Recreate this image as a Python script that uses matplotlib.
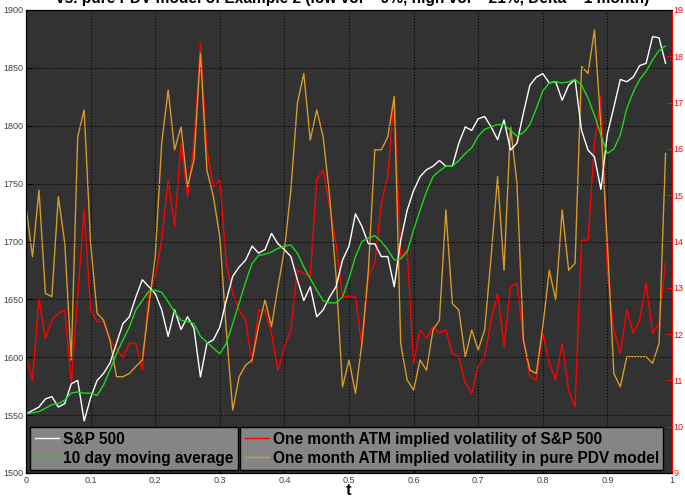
import numpy as np
import matplotlib
matplotlib.use("Agg")
import matplotlib.pyplot as plt

plt.rcParams['font.family'] = ['Liberation Sans', 'DejaVu Sans']

# sampled every 0.01 in t
t = np.arange(100) * 0.01

spx = [1551, 1554, 1557, 1564, 1566, 1557, 1560, 1577, 1580, 1545,
       1565, 1580, 1586, 1595, 1612, 1629, 1635, 1652, 1667, 1661,
       1655, 1641, 1618, 1641, 1624, 1635, 1625, 1583, 1612, 1615,
       1626, 1649, 1670, 1678, 1684, 1696, 1690, 1693, 1707, 1698,
       1693, 1687, 1667, 1649, 1661, 1635, 1641, 1652, 1661, 1684,
       1696, 1724, 1713, 1698, 1698, 1687, 1687, 1661, 1701, 1727,
       1744, 1756, 1762, 1765, 1770, 1765, 1765, 1785, 1799, 1796,
       1806, 1808, 1799, 1788, 1805, 1779, 1785, 1811, 1835, 1842,
       1845, 1837, 1838, 1822, 1835, 1840, 1796, 1779, 1773, 1745,
       1793, 1816, 1840, 1838, 1842, 1852, 1854, 1877, 1876, 1854]

ma10 = [1551, 1552, 1553, 1556, 1559, 1560, 1563, 1569, 1570, 1569,
        1569, 1567, 1576, 1589, 1603, 1615, 1626, 1641, 1649, 1657,
        1658, 1656, 1648, 1639, 1632, 1631, 1629, 1618, 1613, 1608,
        1603, 1612, 1629, 1647, 1665, 1681, 1688, 1689, 1691, 1694,
        1696, 1697, 1690, 1678, 1668, 1658, 1649, 1647, 1647, 1652,
        1668, 1687, 1700, 1703, 1705, 1700, 1693, 1684, 1685, 1691,
        1710, 1727, 1743, 1756, 1761, 1765, 1765, 1770, 1776, 1781,
        1791, 1797, 1799, 1801, 1801, 1796, 1791, 1794, 1801, 1815,
        1830, 1837, 1838, 1837, 1838, 1840, 1835, 1824, 1809, 1792,
        1776, 1780, 1792, 1815, 1829, 1840, 1847, 1857, 1865, 1869]

vol_mkt = [11.51, 11.01, 12.77, 11.91, 12.30, 12.45, 12.52, 10.94, 12.81, 14.68,
           12.52, 12.27, 12.27, 11.87, 11.69, 11.48, 11.80, 11.80, 11.22, 12.88,
           13.24, 14.03, 15.33, 14.32, 16.12, 14.97, 16.12, 18.28, 15.98, 15.18,
           15.33, 13.53, 12.88, 12.52, 12.30, 11.37, 12.52, 12.52, 12.02, 11.22,
           11.73, 12.09, 13.38, 13.31, 13.24, 15.33, 15.54, 14.75, 13.96, 12.81,
           12.81, 12.81, 11.73, 13.24, 13.53, 14.82, 15.40, 17.13, 13.67, 13.82,
           11.37, 12.09, 11.91, 12.16, 12.02, 12.09, 11.58, 11.51, 10.94, 10.72,
           11.30, 11.51, 12.30, 12.88, 11.73, 13.02, 13.10, 11.87, 11.08, 11.01,
           12.02, 11.37, 11.01, 11.80, 10.79, 10.43, 14.03, 14.03, 16.12, 17.13,
           13.31, 12.09, 11.58, 12.52, 12.02, 12.30, 13.10, 12.02, 12.23, 13.53]

vol_pdv = [14.75, 13.67, 15.11, 12.88, 12.81, 14.97, 13.96, 11.44, 16.26, 16.84,
           13.96, 12.45, 12.30, 11.87, 11.08, 11.08, 11.15, 11.30, 11.44, 12.59,
           13.67, 16.12, 17.27, 15.98, 16.48, 15.18, 15.76, 18.06, 15.54, 14.97,
           14.10, 12.09, 10.36, 11.08, 11.33, 11.44, 12.16, 12.74, 12.16, 13.02,
           13.82, 15.11, 16.98, 17.63, 16.19, 16.84, 16.26, 14.97, 13.24, 10.86,
           11.44, 10.72, 11.80, 13.38, 15.98, 15.98, 16.26, 17.13, 11.80, 11.01,
           10.79, 11.44, 11.22, 12.09, 12.30, 14.68, 12.66, 12.52, 11.51, 12.09,
           11.66, 12.09, 13.67, 15.40, 13.38, 16.48, 15.26, 11.87, 11.22, 11.15,
           12.16, 13.38, 12.74, 14.68, 13.38, 13.53, 17.78, 17.63, 18.57, 16.48,
           13.96, 11.15, 10.86, 11.51, 11.51, 11.51, 11.51, 11.37, 11.80, 15.90]

labels = ['S&P 500', '10 day moving average',
          'One month ATM implied volatility of S&P 500',
          'One month ATM implied volatility in pure PDV model']

fig = plt.figure(figsize=(6.85, 5.0), dpi=100)
ax2 = fig.add_axes([0.038, 0.054, 0.943, 0.926])
ax = ax2.twinx()
ax.yaxis.tick_left()
ax.yaxis.set_label_position('left')
ax2.yaxis.tick_right()
ax2.yaxis.set_label_position('right')
ax.set_zorder(ax2.get_zorder() + 1)
ax.patch.set_visible(False)
ax2.set_facecolor('#323232')

l3, = ax2.plot(t, vol_mkt, color='#ff0000', lw=1.0)
l4, = ax2.plot(t, vol_pdv, color='#d69b2a', lw=1.0)
l1, = ax.plot(t, spx, color='white', lw=1.0)
l2, = ax.plot(t, ma10, color='#19d919', lw=1.0)

ax.set_xlim(0, 1)
ax.set_ylim(1500, 1900)
ax2.set_ylim(9, 19)
ax.set_yticks(np.arange(1500, 1901, 50))
ax2.set_yticks(np.arange(9, 20, 1))
ax2.set_xticks(np.arange(0, 1.01, 0.1))
ax2.set_xticklabels(['0', '0.1', '0.2', '0.3', '0.4', '0.5', '0.6', '0.7', '0.8', '0.9', '1'])

ax.grid(True, axis='y', color='black', linestyle=':', lw=0.8)
ax2.grid(True, axis='x', color='black', linestyle=':', lw=0.8)

ax.tick_params(axis='y', direction='in', labelsize=6.5, labelcolor='#404040', length=4, pad=2)
ax2.tick_params(axis='x', direction='in', labelsize=6.5, labelcolor='#404040', length=4, pad=2)
ax2.tick_params(axis='y', direction='in', labelsize=6.5, colors='red', length=4, pad=1)

ax.spines['right'].set_visible(False)
ax2.spines['right'].set_color('red')

ax2.set_xlabel('t', fontsize=12, fontweight='bold', labelpad=-1)

leg_kw = dict(loc='lower left', borderaxespad=0, fancybox=False, framealpha=1,
              facecolor='#858585', edgecolor='black', handlelength=1.6,
              handletextpad=0.2, borderpad=0.3, labelspacing=0.25,
              prop={'weight': 'bold', 'size': 11.2})
leg1 = ax.legend([l1, l2], labels[:2], bbox_to_anchor=(0.006, 0.006), **leg_kw)
ax.add_artist(leg1)
leg2 = ax.legend([l3, l4], labels[2:], bbox_to_anchor=(0.331, 0.006), **leg_kw)

fig.text(0.515, 1.003, 'vs. pure PDV model of Example 2 (low vol = 9%, high vol = 21%, Delta = 1 month)',
         ha='center', va='center', fontsize=11.2, fontweight='bold')

fig.savefig('out.png', dpi=100)
